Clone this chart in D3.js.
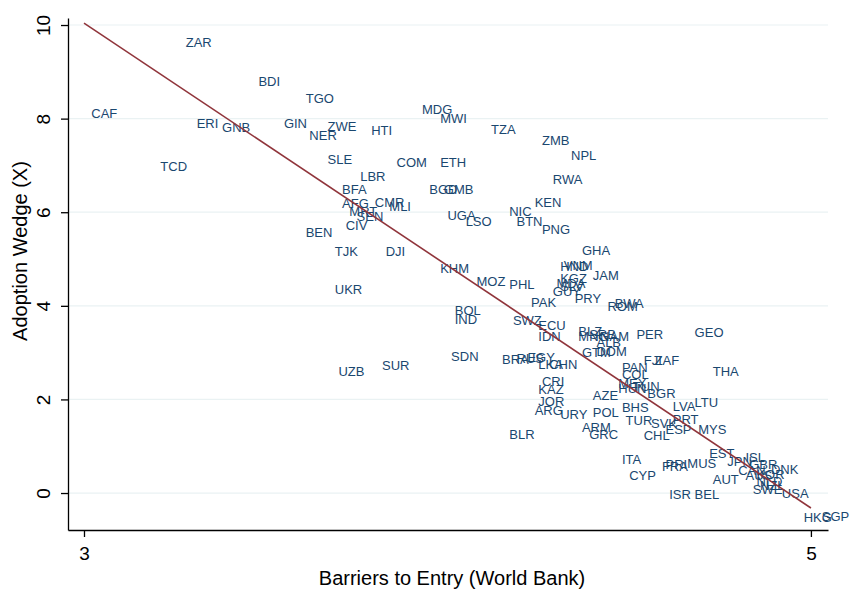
<!DOCTYPE html>
<html>
  <head>
    <meta charset="utf-8">
    <script src="https://d3js.org/d3.v7.min.js"></script>
    <style>
      body { margin: 0; background: #fff; }
      text { font-family: "Liberation Sans", Arial, Helvetica, sans-serif; }
    </style>
  </head>
  <body>
    <div id="chart"></div>
    <script type="text/javascript">
    // country codes, barriers to entry (x) and adoption wedge (y)
    var codes = ["ZAR","BDI","TGO","CAF","ERI","GNB","GIN","NER","ZWE","TCD","SLE","MDG","MWI","HTI","TZA","ZMB","NPL","COM","ETH","LBR",
      "RWA","BFA","BGD","GMB","AFG","CMR","MLI","MRT","SEN","UGA","LSO","NIC","KEN","BTN","PNG","CIV","BEN","TJK","DJI","KHM",
      "GHA","HND","VNM","KGZ","MDA","SLV","GUY","JAM","PRY","ROM","BWA","MOZ","PHL","PAK","UKR","BOL","IND","SWZ","ECU","IDN",
      "BLZ","MNG","SRB","NAM","ALB","GTM","DOM","PER","GEO","FJI","ZAF","SDN","SUR","UZB","BRA","RUS","EGY","LKA","CHN","PAN",
      "COL","MEX","HUN","TUN","BGR","THA","CRI","KAZ","AZE","JOR","ARG","URY","POL","BHS","LVA","LTU","TUR","SVK","PRT","ESP",
      "MYS","CHL","ARM","GRC","BLR","ITA","CYP","FRA","PRI","MUS","EST","JPN","ISL","GBR","CAN","DNK","AUT","AUS","KOR","NLD",
      "NZL","SWE","USA","ISR","BEL","HKG","SGP"];
    var barriers = [3.28,3.48,3.61,3.02,3.31,3.38,3.55,3.62,3.67,3.21,3.67,3.93,3.98,3.79,4.12,4.26,4.34,3.86,3.98,3.76,
      4.29,3.71,3.95,3.99,3.71,3.80,3.84,3.73,3.75,4.00,4.05,4.17,4.24,4.19,4.26,3.72,3.61,3.69,3.83,3.98,
      4.37,4.31,4.32,4.31,4.30,4.31,4.29,4.40,4.35,4.44,4.46,4.08,4.17,4.23,3.69,4.02,4.02,4.18,4.25,4.25,
      4.36,4.36,4.39,4.42,4.41,4.37,4.41,4.52,4.68,4.54,4.57,4.01,3.82,3.70,4.15,4.19,4.22,4.25,4.28,4.48,
      4.48,4.47,4.47,4.51,4.55,4.73,4.26,4.25,4.40,4.25,4.24,4.31,4.40,4.48,4.62,4.68,4.49,4.56,4.62,4.60,
      4.69,4.54,4.37,4.39,4.17,4.48,4.50,4.59,4.60,4.66,4.72,4.77,4.82,4.83,4.80,4.89,4.73,4.82,4.85,4.85,
      4.86,4.84,4.92,4.61,4.68,4.98,5.03];
    var wedge = [9.64,8.79,8.43,8.11,7.90,7.81,7.90,7.64,7.83,6.99,7.12,8.20,8.01,7.74,7.77,7.53,7.22,7.07,7.07,6.76,
      6.71,6.49,6.49,6.49,6.20,6.22,6.12,6.01,5.92,5.94,5.80,6.02,6.21,5.81,5.63,5.71,5.58,5.16,5.16,4.80,
      5.19,4.84,4.86,4.58,4.49,4.42,4.32,4.66,4.16,3.98,4.05,4.52,4.47,4.07,4.35,3.90,3.71,3.68,3.59,3.34,
      3.46,3.35,3.40,3.35,3.21,3.01,3.02,3.40,3.43,2.84,2.84,2.93,2.73,2.59,2.86,2.88,2.91,2.75,2.75,2.69,
      2.53,2.34,2.23,2.29,2.12,2.59,2.38,2.22,2.09,1.95,1.77,1.69,1.72,1.83,1.86,1.93,1.56,1.49,1.57,1.36,
      1.37,1.23,1.40,1.26,1.26,0.72,0.37,0.58,0.61,0.64,0.85,0.68,0.76,0.62,0.48,0.51,0.30,0.38,0.41,0.24,
      0.17,0.08,-0.01,-0.02,-0.02,-0.51,-0.49];

    // fitted line end points
    var fitX = [3, 5];
    var fitY = [10.04, -0.32];

    var yTicks = [0, 2, 4, 6, 8, 10];
    var xTicks = [3, 5];

    var width = 850, height = 591;
    var navy = "#1a476f", maroon = "#90353b";

    var svg = d3.select("#chart")
      .append("svg")
      .attr("width", width)
      .attr("height", height);

    var x = d3.scaleLinear().domain([2.956, 5.047]).range([68, 828]);
    var y = d3.scaleLinear().domain([-0.79, 10.15]).range([530, 18]);

    //grid lines
    svg.append("g")
      .selectAll("line")
      .data(yTicks)
      .enter().append("line")
      .attr("x1", x.range()[0])
      .attr("x2", x.range()[1])
      .attr("y1", function(d){ return y(d); })
      .attr("y2", function(d){ return y(d); })
      .attr("stroke", "#eaf2f3")
      .attr("stroke-width", 1.2);

    //country labels
    var pts = codes.map(function(c, i){ return {code: c, x: barriers[i], y: wedge[i]}; });
    svg.append("g")
      .selectAll("text")
      .data(pts)
      .enter().append("text")
      .attr("x", function(d){ return x(d.x); })
      .attr("y", function(d){ return y(d.y); })
      .attr("dy", "0.36em")
      .attr("fill", navy)
      .style("font-size", "13px")
      .text(function(d){ return d.code; });

    //fitted line
    svg.append("line")
      .attr("x1", x(fitX[0])).attr("y1", y(fitY[0]))
      .attr("x2", x(fitX[1])).attr("y2", y(fitY[1]))
      .attr("stroke", maroon)
      .attr("stroke-width", 1.6);

    //axes
    var yAxis = svg.append("g")
      .attr("transform", "translate(68,0)")
      .call(d3.axisLeft(y).tickValues(yTicks).tickSize(7).tickSizeOuter(0));
    yAxis.selectAll("text")
      .attr("transform", "rotate(-90)")
      .attr("x", 0)
      .attr("y", -18)
      .attr("dy", 0)
      .attr("fill", "#000")
      .style("text-anchor", "middle")
      .style("font-size", "19px");

    var xAxis = svg.append("g")
      .attr("transform", "translate(0,530)")
      .call(d3.axisBottom(x).tickValues(xTicks).tickFormat(d3.format("d")).tickSize(7).tickSizeOuter(0));
    xAxis.selectAll("text")
      .attr("fill", "#000")
      .attr("y", 12)
      .attr("dy", "0.95em")
      .style("font-size", "19px");

    svg.selectAll(".domain, .tick line").attr("stroke", "#000").attr("stroke-width", 1.3);

    //axis titles
    svg.append("text")
      .attr("x", 452)
      .attr("y", 585)
      .style("text-anchor", "middle")
      .style("font-size", "20px")
      .text("Barriers to Entry (World Bank)");

    svg.append("text")
      .attr("transform", "translate(27,251) rotate(-90)")
      .style("text-anchor", "middle")
      .style("font-size", "20px")
      .text("Adoption Wedge (X)");
    </script>
  </body>
</html>
